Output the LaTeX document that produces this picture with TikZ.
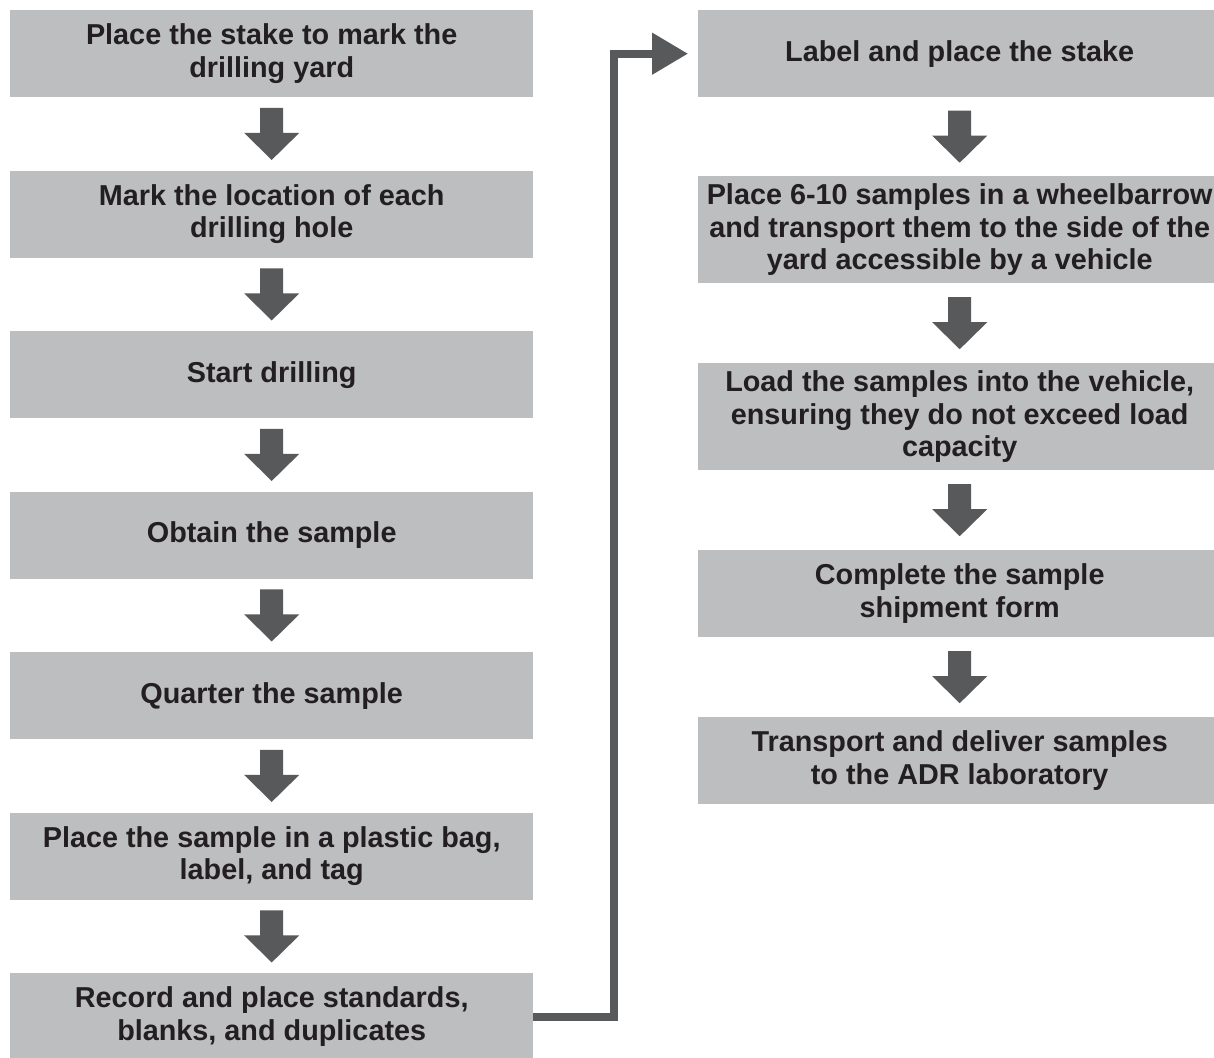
\documentclass[tikz,border=0pt]{standalone}
\usepackage{fontspec}
\setmainfont{Liberation Sans}
\usetikzlibrary{arrows.meta,calc}
\definecolor{boxfill}{HTML}{BDBEC0}
\definecolor{arrowc}{HTML}{58595B}
\definecolor{txt}{HTML}{231F20}
\newcommand\blockdown[2]{%
  \fill[arrowc] ($(#1.south)!0.5!(#2.north)+(-11.5,26)$) -- ++(23,0) -- ++(0,-25) -- ++(16,0)
    -- ++(-27.5,-27) -- ++(-27.5,27) -- ++(16,0) -- cycle;}
\begin{document}
\begin{tikzpicture}[x=1pt,y=1pt,
  stepbox/.style={fill=boxfill, text=txt, minimum width=523pt, inner sep=0pt, anchor=north west,
    align=center, font=\fontsize{28.8}{32.5}\selectfont\bfseries},
  shortbox/.style={stepbox, minimum height=87pt},
  tallbox/.style={stepbox, minimum height=107pt},
  conn/.style={draw=arrowc, line width=8pt, -{Triangle[length=36pt,width=40pt]}, shorten >=10pt}]
\useasboundingbox (0,0) rectangle (1214,-1057);
\fill[white] (0,0) rectangle (1214,-1057);
% left column
\node[shortbox] (L1) at (10,-10) {Place the stake to mark the\\drilling yard};
\node[shortbox] (L2) at (10,-170.5) {Mark the location of each\\drilling hole};
\node[shortbox] (L3) at (10,-331) {Start drilling};
\node[shortbox] (L4) at (10,-491.5) {Obtain the sample};
\node[shortbox] (L5) at (10,-652) {Quarter the sample};
\node[shortbox] (L6) at (10,-812.5) {Place the sample in a plastic bag,\\label, and tag};
\node[shortbox] (L7) at (10,-973) {Record and place standards,\\blanks, and duplicates};
% right column
\node[shortbox] (R1) at (698,-10) {Label and place the stake};
\node[tallbox] (R2) at (698,-176) {Place 6-10 samples in a wheelbarrow\\and transport them to the side of the\\yard accessible by a vehicle};
\node[tallbox] (R3) at (698,-363) {Load the samples into the vehicle,\\ensuring they do not exceed load\\capacity};
\node[shortbox] (R4) at (698,-550) {Complete the sample\\shipment form};
\node[shortbox] (R5) at (698,-717) {Transport and deliver samples\\to the ADR laboratory};
% block arrows
\blockdown{L1}{L2}
\blockdown{L2}{L3}
\blockdown{L3}{L4}
\blockdown{L4}{L5}
\blockdown{L5}{L6}
\blockdown{L6}{L7}
\blockdown{R1}{R2}
\blockdown{R2}{R3}
\blockdown{R3}{R4}
\blockdown{R4}{R5}
% connector
\draw[conn] (L7.east) -- ++(81,0) |- (R1.west);
\end{tikzpicture}
\end{document}
